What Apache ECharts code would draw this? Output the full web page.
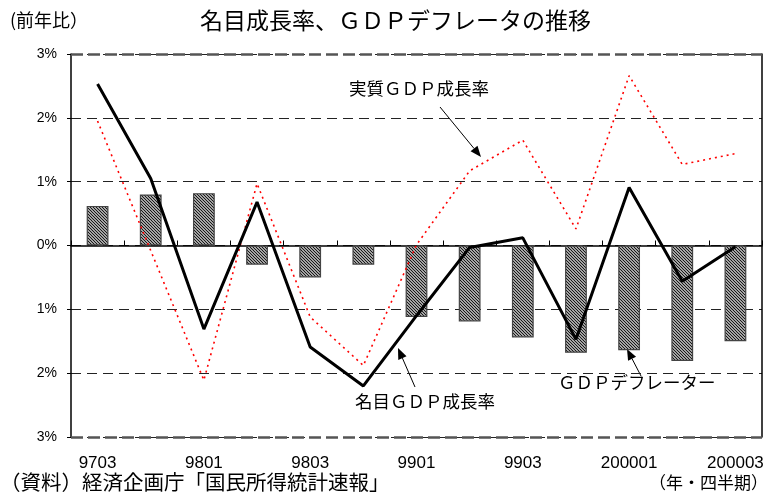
<!DOCTYPE html>
<html><head><meta charset="utf-8">
<script src="https://cdn.jsdelivr.net/npm/echarts@6/dist/echarts.min.js"></script>
<style>html,body{margin:0;padding:0;background:#fff}#c{width:771px;height:493px}</style>
</head><body><div id="c"></div>
<script>
const categories = ['9703','9704','9801','9802','9803','9804','9901','9902','9903','9904','200001','200002','200003'];
const deflator = [0.62,0.80,0.82,-0.30,-0.50,-0.30,-1.12,-1.19,-1.44,-1.68,-1.64,-1.81,-1.50];
const nominal = [2.53,1.05,-1.31,0.68,-1.59,-2.20,-1.10,-0.03,0.12,-1.47,0.91,-0.56,-0.02];
const real = [1.95,-0.08,-2.11,0.97,-1.12,-1.88,0.01,1.17,1.65,0.26,2.66,1.27,1.44];
const yTicks = [-3,-2,-1,0,1,2,3];

const FONT = '"Noto Sans CJK JP", sans-serif';
const NUMFONT = '"Liberation Sans", Arial, sans-serif';

// hatch pattern
const pc = document.createElement('canvas');
pc.width = 3; pc.height = 3;
const g = pc.getContext('2d');
g.fillStyle = '#e8e8e8'; g.fillRect(0,0,3,3);
g.strokeStyle = '#111'; g.lineWidth = 1.2;
g.beginPath();
g.moveTo(-1,-1); g.lineTo(4,4);
g.moveTo(-1,2); g.lineTo(1,4);
g.moveTo(2,-1); g.lineTo(4,1);
g.stroke();

const chart = echarts.init(document.getElementById('c'), null, {renderer:'canvas'});

function arrow(x1,y1,x2,y2){
  const a = Math.atan2(y2-y1,x2-x1), L=11, W=4.5;
  const bx = x2 - L*Math.cos(a), by = y2 - L*Math.sin(a);
  const px = -Math.sin(a)*W, py = Math.cos(a)*W;
  return [
    {type:'line', shape:{x1:x1,y1:y1,x2:bx,y2:by}, style:{stroke:'#000', lineWidth:1}, silent:true},
    {type:'polygon', shape:{points:[[x2,y2],[bx+px,by+py],[bx-px,by-py]]}, style:{fill:'#000'}, silent:true}
  ];
}

chart.setOption({
  animation:false,
  backgroundColor:'#fff',
  grid:{left:71, right:9, top:54, bottom:56},
  xAxis:[
    {type:'category', data:categories, position:'bottom',
     axisLine:{onZero:true, lineStyle:{color:'#000', width:1.5}},
     axisTick:{show:true, inside:true, length:5, lineStyle:{color:'#000'}},
     axisLabel:{show:false}, splitLine:{show:false}},
    {type:'category', data:categories, position:'bottom',
     axisLine:{show:false}, axisTick:{show:false},
     axisLabel:{show:true, interval:1, fontFamily:NUMFONT, fontSize:17, color:'#000', margin:18}, splitLine:{show:false}}
  ],
  yAxis:[
    {type:'value', min:-3, max:3, interval:1,
     axisLine:{show:true, lineStyle:{color:'#000', width:1.5}},
     axisTick:{show:true, length:4, lineStyle:{color:'#000'}},
     axisLabel:{fontFamily:NUMFONT, fontSize:14, color:'#000', margin:14,
       formatter:function(v){return Math.abs(v)+'%';}},
     splitLine:{show:true, lineStyle:{color:'#222', type:[10,6], width:1}}},
    {type:'value', min:-3, max:3, interval:1, position:'right',
     axisLine:{show:true, lineStyle:{color:'#000', width:1.5}},
     axisTick:{show:false}, axisLabel:{show:false}, splitLine:{show:false}}
  ],
  series:[
    {type:'bar', data:deflator, barWidth:'41%', xAxisIndex:0, yAxisIndex:0,
     itemStyle:{color:{image:pc, repeat:'repeat'}, borderColor:'#444', borderWidth:1.2},
     markLine:{silent:true, symbol:'none', label:{show:false},
       lineStyle:{color:'#555', type:[12,5], width:2.5},
       data:[{yAxis:3},{yAxis:-3}]}},
    {type:'line', data:real, xAxisIndex:0, yAxisIndex:0, symbol:'none',
     lineStyle:{color:'#ff0000', width:1.6, type:[2,4]}, z:3},
    {type:'line', data:nominal, xAxisIndex:0, yAxisIndex:0, symbol:'none',
     lineStyle:{color:'#000', width:3}, z:4}
  ],
  graphic:[
    {type:'text', left:200, top:9, style:{text:'名目成長率、ＧＤＰデフレータの推移', font:'23px '+FONT, fill:'#000'}},
    {type:'text', left:10, top:11, style:{text:'(前年比）', font:'18px '+FONT, fill:'#000'}},
    {type:'text', left:349, top:80, style:{text:'実質ＧＤＰ成長率', font:'17.5px '+FONT, fill:'#000'}},
    {type:'text', left:355, top:393, style:{text:'名目ＧＤＰ成長率', font:'17.5px '+FONT, fill:'#000'}},
    {type:'text', left:558, top:374, style:{text:'ＧＤＰデフレーター', font:'17.5px '+FONT, fill:'#000'}},
    {type:'text', left:0, top:472, style:{text:'（資料）経済企画庁「国民所得統計速報」', font:'20.5px '+FONT, fill:'#000'}},
    {type:'text', right:3, top:474, style:{text:'（年・四半期）', font:'17px '+FONT, fill:'#000'}}
  ].concat(arrow(440,107,481,157)).concat(arrow(415,387,398,348)).concat(arrow(641,376,627,349))
});
</script></body></html>
